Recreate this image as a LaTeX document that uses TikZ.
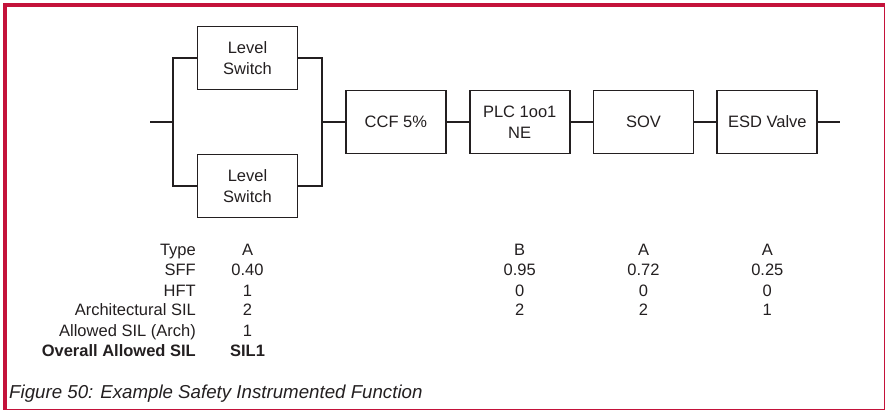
\documentclass[tikz,border=0pt]{standalone}
\usepackage{fontspec}
\setmainfont{Liberation Sans}
\usepackage{xcolor}
\usetikzlibrary{positioning}
\definecolor{framered}{RGB}{196,18,58}
\definecolor{ink}{RGB}{35,31,32}

\begin{document}
\begin{tikzpicture}[
  x=1pt, y=-1pt,
  node distance=22pt,
  blk/.style={draw=ink, line width=1.8pt, align=center, minimum width=100pt, minimum height=63pt, inner sep=2pt, text=ink, font=\fontsize{16.5}{21}\selectfont},
  wire/.style={draw=ink, line width=1.8pt},
  lbl/.style={anchor=base east, inner sep=0pt, text=ink, font=\fontsize{16.5}{20}\selectfont},
  val/.style={anchor=base, inner sep=0pt, text=ink, font=\fontsize{16.5}{20}\selectfont}
]
\useasboundingbox (0,0) rectangle (885,411);
% frame
\fill[framered] (2.7,3.3) rectangle (884.7,7);
\fill[framered] (2.7,3.3) rectangle (7,409.7);
\draw[framered, line width=1pt] (884.2,3.3) -- (884.2,409.2) -- (2.7,409.2);

% block diagram
\node[blk] (ls1) at (247.5,58) {Level\\Switch};
\node[blk] (ls2) at (247.5,186) {Level\\Switch};
\coordinate (in) at (150,122);
\coordinate (jl) at (173,122);
\coordinate (jr) at (322,122);
\node[blk, anchor=west] (ccf) at (345,122) {CCF 5\%};
\node[blk, right=of ccf] (plc) {PLC 1oo1\\NE};
\node[blk, right=of plc] (sov) {SOV};
\node[blk, right=of sov] (esd) {ESD Valve};
\coordinate[right=of esd] (out);
\draw[wire] (in) -- (jl);
\draw[wire] (ls1.west) -| (jl) |- (ls2.west);
\draw[wire] (ls1.east) -| (jr) |- (ls2.east);
\draw[wire] (jr) -- (ccf);
\draw[wire] (ccf) -- (plc);
\draw[wire] (plc) -- (sov);
\draw[wire] (sov) -- (esd);
\draw[wire] (esd) -- (out);

% table
\foreach \txt [count=\r] in {Type, SFF, HFT, Architectural SIL, Allowed SIL (Arch)}
  \node[lbl] (lbl-\r) at (196,{236+20*\r}) {\txt};
\node[lbl, font=\fontsize{16.5}{20}\selectfont\bfseries] (lbl-6) at (196,356) {Overall Allowed SIL};
\foreach \col/\vals in {ls1/{A,0.40,1,2,1}, plc/{B,0.95,0,2}, sov/{A,0.72,0,2}, esd/{A,0.25,0,1}}
  \foreach \v [count=\r] in \vals
    \node[val] (v-\col-\r) at (\col |- lbl-\r.base) {\v};
\node[val, font=\fontsize{16.5}{20}\selectfont\bfseries] (v-ls1-6) at (ls1 |- lbl-6.base) {SIL1};

% caption
\node[anchor=base west, inner sep=0pt, text=ink, font=\fontsize{18.7}{22}\selectfont\itshape] (cap) at (9,398) {Figure 50: Example Safety Instrumented Function};
\end{tikzpicture}
\end{document}
